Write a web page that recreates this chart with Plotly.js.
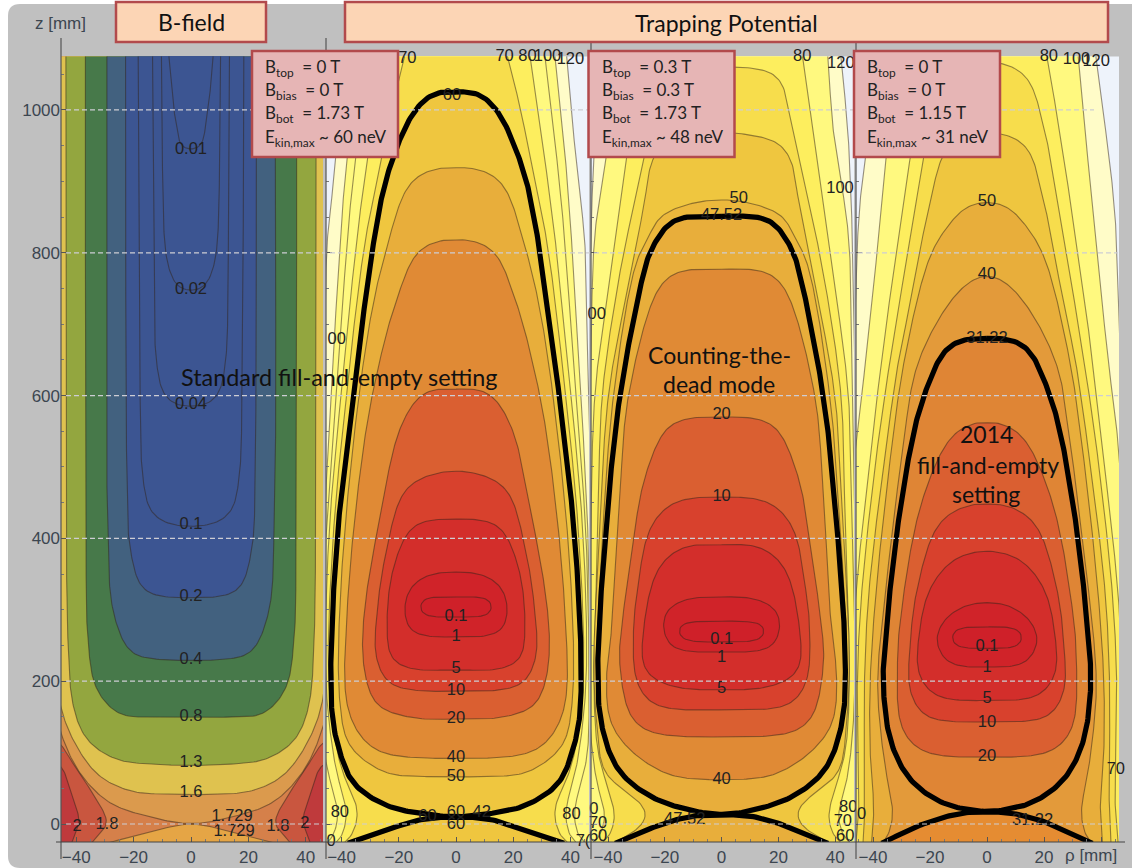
<!DOCTYPE html>
<html><head><meta charset="utf-8">
<script src="https://cdn.plot.ly/plotly-3.0.1.min.js"></script>
<style>html,body{margin:0;padding:0;background:#fff}#c{width:1132px;height:868px}</style>
</head><body><div id="c"></div>
<script>
// ---- contour readings: [z (mm), half width in rho (mm)] ----
// B-field
const b_001=[[945,0],[946,2],[953,3.8],[990,5.5],[1000,6],[1075,7.7]];
const b_002=[[746,0],[748,3],[752,5],[775,7.5],[804,9],[1075,10.3]];
const b_004=[[585,0],[587,5.6],[603,9.8],[640,11.8],[668,12.5],[800,13],[1075,13.4]];
const b_01=[[417,0],[419,6.7],[435,13.7],[482,16.7],[622,17.8],[1075,18.4]];
const b_02=[[317,0],[318,9],[328,16.7],[388,21.3],[480,22.3],[1075,22.8]];
const b_04=[[229,0],[231,12.5],[239,20.7],[295,27],[420,29],[1075,29.3]];
const b_08=[[149,0],[150,14.3],[153,24.7],[188,32.9],[258,35.9],[400,36.6],[1075,36.8]];
const b_13=[[82,0],[84,14.3],[90,25.9],[118,36.3],[164,41],[258,42.9],[500,43.4],[1075,43.6]];
const b_16=[[41,0],[42,10],[45,20.2],[66,31.7],[108,39.8],[162,45.3],[250,47.5],[1075,48]];
const b_1729up=[[0,0],[10,14.3],[29,28.2],[71,38.7],[127,45.3],[200,49],[1075,50]];
const b_1729lo=[[-26,28.5],[-11,14.3],[0,0]];
const b_18=[[-26,34.5],[1.4,29.4],[38,33.5],[76,39.8],[111,45.3],[125,50]];
const b_2=[[-26,41.5],[3,39],[34,41],[80,45.3],[90,50]];
// Panel 2: standard setting
const s_120=[[-26,50],[200,50],[400,48],[570,46.5],[650,46],[818,45],[912,42.4],[1075,38.7]];
const s_100=[[-26,48],[24,47],[60,47],[100,48],[200,47.2],[400,46.2],[650,43],[818,40.4],[912,38.7],[1075,34.6]];
const s_90=[[-26,45],[-10,42],[24,41.5],[60,44],[100,46],[200,46.5],[400,45.5],[650,41],[818,38],[912,35.8],[1075,31.1]];
const s_80=[[-26,42],[-10,39],[24,38.5],[60,41],[100,43],[200,45.5],[400,44.5],[650,39],[818,34.7],[912,31.7],[1075,25.9]];
const s_70=[[-26,39],[-10,35.5],[24,34.5],[60,38.5],[100,41.5],[200,44.5],[400,43],[650,37],[818,31.7],[912,27],[1004,22.4],[1075,18]];
const s_60=[[10,0],[15,12.6],[25,24],[57,36],[99,40.5],[141,43],[211,43.8],[398,41.6],[603,36],[678,33.5],[800,29.4],[912,23.8],[1000,14.3],[1024,7.3],[1025,0]];
const s_60lo=[[-27,37.8],[-8,24],[6,12.6],[10,0]];
const s_50=[[66,0],[67,15],[71,24.2],[108,37],[164,40.5],[351,40],[678,31.2],[808,24.2],[898,16],[917,8],[919,0]];
const s_40=[[92,0],[93,15],[100,26],[118,32.5],[164,38],[304,38],[538,32],[650,26.6],[734,20.8],[800,13.7],[816,7],[818,0]];
const s_20=[[147,0],[148,14],[164,27],[188,30.5],[234,32.6],[300,32],[421,27],[561,18.9],[605,10.8],[609,0]];
const s_10=[[186,0],[187,14],[197,23.5],[234,28],[300,27.5],[374,24.8],[468,17.8],[490,8.4],[494,0]];
const s_5=[[216,0],[217,15.4],[230,22.4],[258,24],[351,22.4],[416,15.4],[426,8.4],[427,0]];
const s_1=[[262,0],[263,10],[272,16],[300,18],[330,16],[348,10],[353,0]];
const s_01=[[290,0],[291,9],[296,12],[304,12.5],[312,12],[317,9],[318,0]];
// Panel 3: counting-the-dead
const c_120=[[-26,50],[500,47.5],[828,46],[968,44.5],[1075,42]];
const c_100=[[-26,49],[200,48.5],[400,47],[650,46],[828,44.6],[968,39.4],[1075,37.4]];
const c_80=[[-26,45],[-10,42],[15,41],[50,43.5],[100,45.5],[200,47],[400,46],[603,44.6],[790,38.5],[920,34],[1075,28.5]];
const c_70=[[-26,42],[-10,38.5],[15,37.6],[50,40],[100,43.5],[200,45],[400,43.5],[603,42],[790,35],[828,33],[968,25.3],[1046,20],[1058,12],[1060,0]];
const c_60=[[-26,37.6],[-4,28.6],[15,26],[38,31],[71,41],[141,44],[230,45],[400,43],[603,39.8],[790,31],[874,27],[930,24.5],[954,20],[965,10],[969,0]];
const c_50=[[14,0],[20,12],[38,25.4],[76,37],[141,42.6],[230,44],[400,42],[603,38],[790,29.8],[828,24.9],[850,22],[870,10],[874,0]];
const c_thick=[[13,0],[20,11.8],[38,24.9],[76,36.5],[141,42.4],[220,43.6],[398,41],[603,35.7],[790,26.3],[804,24.9],[842,18.4],[850,13.2],[851,0]];
const c_thicklo=[[-27,37.5],[-6,24.9],[10,11.8],[13,0]];
const c_40=[[62,0],[63,10],[69,18.6],[99,31],[141,39],[211,40.5],[276,38.6],[463,35.8],[603,32.7],[752,22],[773,15.7],[777,0]];
const c_20=[[122,0],[123,16],[130,26],[150,32],[230,36],[276,35.2],[370,32],[486,27],[556,19],[568,12],[570,0]];
const c_10=[[160,0],[161,17],[170,25],[200,30],[276,31],[323,29.8],[416,25],[450,16.9],[458,0]];
const c_5=[[188,0],[189,12],[196,20],[215,27],[276,27.4],[360,22],[388,13.3],[391,0]];
const c_1=[[241,0],[242,12],[250,18],[276,20.6],[300,19],[315,12],[318,0]];
const c_01=[[255,0],[256,10],[262,14.5],[270,15],[278,14.5],[283,10],[284,0]];
// Panel 4: 2014 setting
const f_120=[[-26,50],[500,48],[710,46.3],[864,44.7],[1075,38.2]];
const f_100=[[-26,50],[300,48],[519,46.3],[650,42.5],[864,37],[1075,32]];
const f_80=[[-26,48],[20,47.5],[100,48],[200,47.5],[323,46],[510,41],[650,37],[795,32],[968,25.6],[1075,21]];
const f_70=[[-26,46],[20,45],[60,45],[200,45.5],[323,44],[510,39],[650,34],[828,26.6],[968,20.4],[1046,14],[1065,6],[1067,0]];
const f_60=[[-26,43.5],[20,42.9],[100,43],[200,43],[323,41.5],[510,36],[650,31],[734,26.6],[864,20.4],[948,14],[965,7],[969,0]];
const f_50=[[-26,40.5],[20,39.7],[100,41],[200,41],[323,39],[510,34],[650,29],[790,20.5],[828,15.5],[865,7],[871,0]];
const f_40=[[-26,36.5],[-10,34],[20,33],[62,35],[118,37],[200,38.4],[370,34.4],[510,30],[650,23.9],[750,9],[769,0]];
const f_thick=[[17,0],[20,6.4],[29,15.5],[62,27],[118,34],[202,36.5],[230,36.2],[398,32],[556,25.3],[612,21],[664,14.7],[678,8.8],[680,0]];
const f_thicklo=[[-27,37],[1,21.8],[15,9],[17,0]];
const f_20=[[94,0],[95,15],[105,24],[135,30],[230,31.4],[300,30],[450,23],[540,13],[560,6],[562,0]];
const f_10=[[143,0],[144,14],[152,22],[185,27],[250,27],[330,24.5],[420,17],[445,8],[448,0]];
const f_5=[[173,0],[174,12],[182,19],[210,24],[260,24],[330,20],[372,11],[382,0]];
const f_1=[[220,0],[221,9],[230,14.5],[258,17.7],[285,15],[305,8],[310,0]];
const f_01=[[246,0],[247,8],[252,11.5],[261,12.3],[270,11.5],[275,8],[276,0]];
// Edge of the drawn region
const rectRho=[-60,60,60,-60];
const rectZ=[-26,-26,1075,1075];
// ---- labels ----
const bLabels=['0.01','0.02','0.04','0.1','0.2','0.4','0.8','1.3','1.6','1.729','1.729','2','1.8','1.8','2'];
const bLabelRho=[0,0,0,0,0,0,0,0,0,14.3,15,-39.7,-29.3,30.3,39.7];
const bLabelZ=[944,748,587,419,318,230,150,85,43,10,-11,-4,-1,-4,0];
const sLabels=['60','70','70','80','100','120','00','0.1','1','5','10','20','40','50','60','60','42','60','80','80','0','7('];
const sLabelRho=[-1.4,-17,17,25,32,40,-41.7,0,0,0,0,0,0,0,0,-10,9,0,-40.6,40.4,-43.7,44.4];
const sLabelZ=[1020,1071,1075,1075,1075,1070,678,290,262,217,186,147,92,66,15,10,15,-1,15,13,-25,-25];
const cLabels=['50','47.52','80','120','100','00','20','10','0.1','1','5','40','47.52','70','80','60','70','60','0'];
const cLabelRho=[6,0,28.4,42,41.7,-44,0,0,0,0,0,0,-13,42.7,44.6,43.5,-43.5,-43.5,-45];
const cLabelZ=[875,851,1075,1064,890,713,573,458,258,232,189,62,6,3,22,-18,0,-18,20];
const fLabels=['50','40','31.22','20','10','5','1','0.1','31.22','70','0','80','100','120'];
const fLabelRho=[0,0,0,0,0,0,0,0,16,45.2,-44,21.7,31.4,38.3];
const fLabelZ=[871,769,679,94,141,175,218,248,4,76,13,1075,1070,1068];
const zTicks=[0,200,400,600,800,1000];
const rhoTicks=[-40,-20,0,20,40];
const rhoText=['\u221240','\u221220','0','20','40'];
const rhoTextLast=['\u221240','\u221220','0','20',''];
const boxTop=['0 T','0.3 T','0 T'];
const boxBias=['0 T','0.3 T','0 T'];
const boxBot=['1.73 T','1.73 T','1.15 T'];
const boxEkin=['60 neV','48 neV','31 neV'];

// ---- palette ----
const C={white:'#eef3fb',cream:'#fffcc8',yel:'#fff97f',yel2:'#fdee5e',gold:'#f7dd4c',g2:'#efc63f',g3:'#e8ae3b',or:'#e08a35',or2:'#da5f31',r1:'#d8412d',r2:'#d32e2b',r3:'#d02329',r4:'#cf2029'};
const LINE='rgba(50,35,25,0.5)';
const W=1132,H=868;
const px=x=>x/W, py=y=>1-y/H;
const traces=[];
// Draw-time rounding of a read outline (same role as a line spline, with no overshoot)
const SX=2.86,SZ=0.714;
function round(p){
  const out=[];const n=p.length;
  const d=(a,b)=>Math.sqrt(Math.hypot((a[0]-b[0])*SX,(a[1]-b[1])*SZ))||0.01;
  for(let i=0;i<n-1;i++){
    const P1=p[i],P2=p[i+1];
    const P0=i>0?p[i-1]:(P1[0]===0?[-P2[0],P2[1]]:[2*P1[0]-P2[0],2*P1[1]-P2[1]]);
    const P3=i<n-2?p[i+2]:(P2[0]===0?[-P1[0],P1[1]]:[2*P2[0]-P1[0],2*P2[1]-P1[1]]);
    const t1=d(P0,P1),t2=t1+d(P1,P2),t3=t2+d(P2,P3);
    for(let s=0;s<8;s++){
      const t=t1+(t2-t1)*s/8;
      const L=(A,B,a,b)=>[A[0]*(b-t)/(b-a)+B[0]*(t-a)/(b-a),A[1]*(b-t)/(b-a)+B[1]*(t-a)/(b-a)];
      const A1=L(P0,P1,0,t1),A2=L(P1,P2,t1,t2),A3=L(P2,P3,t2,t3);
      const B1=L(A1,A2,0,t2),B2=L(A2,A3,t1,t3);
      out.push(L(B1,B2,t1,t2));
    }
  }
  out.push(p[n-1]);
  return soften(out);
}
// Take the corners off the outline: even steps along it, then a short running mean.
function soften(p){
  const step=2.5,q=[p[0]];let acc=0;
  for(let i=1;i<p.length;i++){
    const a=p[i-1],b=p[i];
    const len=Math.hypot((b[0]-a[0])*SX,(b[1]-a[1])*SZ);
    let pos=step-acc;
    while(pos<len){q.push([a[0]+(b[0]-a[0])*pos/len,a[1]+(b[1]-a[1])*pos/len]);pos+=step;}
    acc=(acc+len)%step;
  }
  q.push(p[p.length-1]);
  const n=q.length,win=Math.min(7,Math.floor(n/22));
  if(win<1) return q;
  return q.map((_,i)=>{
    const h=Math.min(win,i,n-1-i);let sx=0,sy=0,sw=0;
    for(let j=-h;j<=h;j++){const w=h+1-Math.abs(j);sx+=q[i+j][0]*w;sy+=q[i+j][1]*w;sw+=w;}
    return [sx/sw,sy/sw];
  });
}
function paths(pts){
  const right=pts.map(p=>[p[1],p[0]]);
  const left=pts.slice().reverse().map(p=>[-p[1],p[0]]);
  const bot=pts[0][1],top=pts[pts.length-1][1];
  if(bot===0) return [round(left.concat(right.slice(1)))];
  if(top===0) return [round(right.concat(left.slice(1)))];
  return [round(left),round(right)];
}
function addFill(pts,color,ax){
  const poly=[].concat(...paths(pts));
  traces.push({type:'scatter',mode:'lines',x:poly.map(p=>p[0]),y:poly.map(p=>p[1]),xaxis:ax[0],yaxis:ax[1],
    fill:'toself',fillcolor:color,line:{width:0},hoverinfo:'skip',showlegend:false});
}
function addLine(pts,ax,color,width){
  const ps=paths(pts);
  let xs=[],ys=[];
  ps.forEach((q,i)=>{if(i){xs.push(null);ys.push(null);}q.forEach(p=>{xs.push(p[0]);ys.push(p[1]);});});
  traces.push({type:'scatter',mode:'lines',x:xs,y:ys,xaxis:ax[0],yaxis:ax[1],connectgaps:false,
    line:{width:width||1.1,color:color||LINE},hoverinfo:'skip',showlegend:false});
}
function level(pts,color,ax){addFill(pts,color,ax);addLine(pts,ax);}
function base(color,ax){traces.push({type:'scatter',mode:'lines',x:rectRho,y:rectZ,xaxis:ax[0],yaxis:ax[1],fill:'toself',fillcolor:color,line:{width:0},hoverinfo:'skip',showlegend:false});}
function side(pts,color,ax){
  [-1,1].forEach(s=>{
    const c=round(pts.map(p=>[s*p[1],p[0]]));
    const last=pts[pts.length-1][0];
    const poly=c.concat([[s*60,last],[s*60,pts[0][0]]]);
    traces.push({type:'scatter',mode:'lines',x:poly.map(p=>p[0]),y:poly.map(p=>p[1]),xaxis:ax[0],yaxis:ax[1],fill:'toself',fillcolor:color,line:{width:0},hoverinfo:'skip',showlegend:false});
    traces.push({type:'scatter',mode:'lines',x:c.map(p=>p[0]),y:c.map(p=>p[1]),xaxis:ax[0],yaxis:ax[1],line:{width:1.1,color:LINE},hoverinfo:'skip',showlegend:false});
  });
}
function labels(txt,rho,z,ax){
  traces.push({type:'scatter',mode:'text',x:rho,y:z,text:txt,xaxis:ax[0],yaxis:ax[1],cliponaxis:false,textposition:'middle center',
    textfont:{family:'Liberation Sans',size:16.5,color:'#222'},hoverinfo:'skip',showlegend:false});
}
const A1=['x','y'],A2=['x2','y2'],A3=['x3','y3'],A4=['x4','y4'];
// Panel 1
base('#d5804a',A1);
side(b_18,'#c9563f',A1);
side(b_2,'#bf3a3c',A1);
level(b_1729up,'#db9a4d',A1);
level(b_1729lo,'#e5a545',A1);
level(b_16,'#dfc24f',A1);
level(b_13,'#93a63f',A1);
level(b_08,'#47794a',A1);
level(b_04,'#42617f',A1);
level(b_02,'#3c5592',A1);
level(b_01,'#3c5592',A1);
level(b_004,'#3c5592',A1);
level(b_002,'#3c5592',A1);
level(b_001,'#3c5592',A1);
labels(bLabels,bLabelRho,bLabelZ,A1);
// Panel 2
base(C.white,A2);
level(s_120,C.cream,A2);level(s_100,C.yel,A2);level(s_90,C.yel,A2);level(s_80,C.yel2,A2);level(s_70,C.gold,A2);
addFill(s_60,C.g2,A2);addFill(s_60lo,C.g2,A2);
level(s_50,C.g3,A2);level(s_40,C.or,A2);level(s_20,C.or2,A2);level(s_10,C.r1,A2);level(s_5,C.r2,A2);level(s_1,C.r3,A2);level(s_01,C.r4,A2);
addLine(s_60,A2,'#000',5.2);addLine(s_60lo,A2,'#000',5.2);
labels(sLabels,sLabelRho,sLabelZ,A2);
// Panel 3
base(C.white,A3);
level(c_120,C.cream,A3);level(c_100,C.yel,A3);level(c_80,C.yel2,A3);level(c_70,C.gold,A3);level(c_60,C.g2,A3);level(c_50,'#ecb83c',A3);
addFill(c_thick,C.g3,A3);addFill(c_thicklo,C.g3,A3);
level(c_40,C.or,A3);level(c_20,C.or2,A3);level(c_10,C.r1,A3);level(c_5,C.r2,A3);level(c_1,C.r3,A3);level(c_01,C.r4,A3);
addLine(c_thick,A3,'#000',5.2);addLine(c_thicklo,A3,'#000',5.2);
labels(cLabels,cLabelRho,cLabelZ,A3);
// Panel 4
base(C.white,A4);
level(f_120,C.cream,A4);level(f_100,C.yel,A4);level(f_80,C.yel2,A4);level(f_70,C.gold,A4);level(f_60,C.g2,A4);level(f_50,C.g3,A4);level(f_40,'#e39a3a',A4);
addFill(f_thick,'#df8535',A4);addFill(f_thicklo,'#e58c32',A4);
level(f_20,C.or2,A4);level(f_10,C.r1,A4);level(f_5,C.r2,A4);level(f_1,C.r3,A4);level(f_01,C.r4,A4);
addLine(f_thick,A4,'#000',5.2);addLine(f_thicklo,A4,'#000',5.2);
labels(fLabels,fLabelRho,fLabelZ,A4);

// ---- axes ----
const yDom=[py(842),py(38)];
const zRange=[-25.2,1100.8];
const tickFont={family:'Liberation Sans',size:17,color:'#3c4650'};
function xAxis(l,r,x0,k,anchor,txt){return {domain:[px(l),px(r)],range:[(l-x0)/k,(r-x0)/k],anchor:anchor,tickvals:rhoTicks,ticktext:txt,ticks:'inside',ticklen:5,tickcolor:'#555',tickfont:tickFont,showgrid:false,zeroline:false,showline:false,ticklabelstandoff:3,
  minor:{dtick:5,ticks:'inside',ticklen:3,tickcolor:'#777',showgrid:false}};}
function yAxis(anchor,show){return {domain:yDom,range:zRange,anchor:anchor,tickvals:zTicks,ticks:'inside',ticklen:6,tickcolor:'#555',showticklabels:show,tickfont:tickFont,showgrid:false,zeroline:false,showline:false,
  minor:{dtick:50,ticks:'inside',ticklen:3,tickcolor:'#777',showgrid:false}};}

// ---- decorations ----
const shapes=[];
const G='#c0c0c0';
shapes.push({type:'path',xref:'paper',yref:'paper',layer:'below',fillcolor:G,line:{width:0},
  path:`M ${px(8)} ${py(16)} Q ${px(8)} ${py(4)} ${px(20)} ${py(4)} L ${px(1132)} ${py(4)} L ${px(1132)} ${py(868)} L ${px(20)} ${py(868)} Q ${px(8)} ${py(868)} ${px(8)} ${py(856)} Z`});
zTicks.forEach(z=>shapes.push({type:'line',xref:'paper',yref:'y',x0:px(66),x1:px(z===1000?1094:1118),y0:z,y1:z,layer:'above',line:{color:'rgb(205,205,212)',width:1.2,dash:'5px,3px'}}));
[61,326,591,856].forEach(x=>shapes.push({type:'line',xref:'paper',yref:'paper',x0:px(x),x1:px(x),y0:py(38),y1:py(859),layer:'above',line:{color:'#555',width:1.2}}));
shapes.push({type:'line',xref:'paper',yref:'paper',x0:px(56),x1:px(1125),y0:py(842),y1:py(842),layer:'above',line:{color:'#444',width:1.2}});
function box(x0,y0,x1,y1,fill,lw){shapes.push({type:'rect',xref:'paper',yref:'paper',x0:px(x0),x1:px(x1),y0:py(y0),y1:py(y1),layer:'above',fillcolor:fill,line:{color:'#b24a4c',width:lw}});}
box(116,2,266,42,'#fcd5b5',2.5);
box(345,2,1108,42,'#fcd5b5',2.5);
const boxX=[252,588.5,854];
boxX.forEach(x=>box(x,51,x+146,157,'#e6b5b5',2.5));

const ann=[];
const OV='Lato';
function note(x,y,t,size,anchor,color,fam){ann.push({xref:'paper',yref:'paper',x:px(x),y:py(y),text:t,showarrow:false,xanchor:anchor||'center',yanchor:'middle',font:{family:fam||OV,size:size,color:color||'#111'}});}
note(191,22,'B-field',23);
note(726,23,'Trapping Potential',23);
note(60,24,'z [mm]',17,'center','#3c4650','Liberation Sans');
note(1091,855,'ρ [mm]',17,'center','#3c4650','Liberation Sans');
boxX.forEach((x,i)=>{
  const l=x+11;
  note(l,68,'B<sub>top</sub>\u00a0\u00a0= '+boxTop[i],17,'left','#222');
  note(l,91,'B<sub>bias</sub>\u00a0\u00a0= '+boxBias[i],17,'left','#222');
  note(l,114,'B<sub>bot</sub>\u00a0\u00a0= '+boxBot[i],17,'left','#222');
  note(l,138,'E<sub>kin,max</sub> ~ '+boxEkin[i],17,'left','#222');
});
note(339,377,'Standard fill-and-empty setting',23.4);
note(719,355,'Counting-the-',23);
note(719,384,'dead mode',23);
note(986,434,'2014',23);
note(988,465,'fill-and-empty',23);
note(986,494,'setting',23);

const layout={width:W,height:H,margin:{l:0,r:0,t:0,b:0,pad:0},paper_bgcolor:'#fff',plot_bgcolor:'rgba(0,0,0,0)',showlegend:false,
  xaxis:xAxis(61,323,191,2.87,'y',rhoText),xaxis2:xAxis(326,589,456,2.86,'y2',rhoText),xaxis3:xAxis(591,854,721.6,2.84,'y3',rhoText),xaxis4:xAxis(856,1119,987,2.85,'y4',rhoTextLast),
  yaxis:yAxis('x',true),yaxis2:yAxis('x2',false),yaxis3:yAxis('x3',false),yaxis4:yAxis('x4',false),
  shapes:shapes,annotations:ann};
Plotly.newPlot('c',traces,layout,{displayModeBar:false,responsive:false});
</script></body></html>
